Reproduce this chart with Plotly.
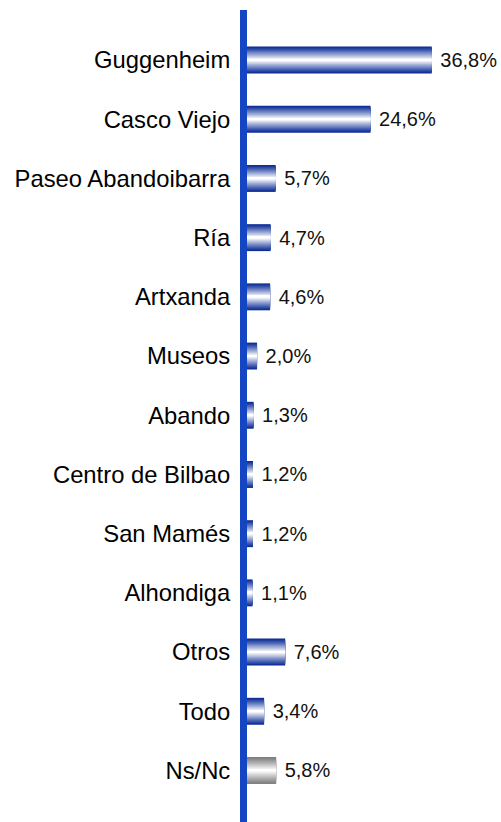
import plotly.graph_objects as go

categories = ["Guggenheim", "Casco Viejo", "Paseo Abandoibarra", "Ría", "Artxanda",
              "Museos", "Abando", "Centro de Bilbao", "San Mamés", "Alhondiga",
              "Otros", "Todo", "Ns/Nc"]
values = [36.8, 24.6, 5.7, 4.7, 4.6, 2.0, 1.3, 1.2, 1.2, 1.1, 7.6, 3.4, 5.8]
labels = [" " + f"{v:.1f}%".replace(".", ",") for v in values]

blue_dark = (12, 45, 150)
grey_dark = (125, 125, 125)
is_grey = [c == "Ns/Nc" for c in categories]

def mix(c, t):
    return "rgb(%d,%d,%d)" % tuple(round(a + (255 - a) * t) for a in c)

fig = go.Figure()
N = 14
full_w = 0.455
for k in range(N):
    t = k / (N - 1)
    w = full_w * (1 - k / N)
    light = t ** 1.1
    colors = [mix(grey_dark if g else blue_dark, light) for g in is_grey]
    fig.add_trace(go.Bar(
        x=values, y=categories, orientation="h",
        width=w,
        marker=dict(color=colors, line=dict(width=0)),
        text=labels if k == 0 else None,
        textposition="outside" if k == 0 else "none",
        constraintext="none",
        textfont=dict(family="Liberation Sans, Arial", size=20, color="#111"),
        cliponaxis=False,
        hoverinfo="skip",
        showlegend=False,
    ))

fig.update_layout(
    width=501, height=822,
    barmode="overlay",
    margin=dict(l=247, r=0, t=10, b=0),
    paper_bgcolor="white", plot_bgcolor="white",
    font=dict(family="Liberation Sans, Arial", size=23.8, color="#000"),
    xaxis=dict(range=[0, 50.6], visible=False, showgrid=False, zeroline=False),
    yaxis=dict(
        type="category", categoryorder="array", categoryarray=categories,
        range=[12.87, -0.845], automargin=False,
        showline=True, linecolor="#1446C4", linewidth=7,
        ticks="", showgrid=False, zeroline=False,
        tickfont=dict(family="Liberation Sans, Arial", size=23.8, color="#000"),
        ticklabelstandoff=5,
    ),
)

fig.write_html("out.html", config={"displayModeBar": False},
               post_script="document.body.style.margin='0';document.body.style.overflow='hidden';")
